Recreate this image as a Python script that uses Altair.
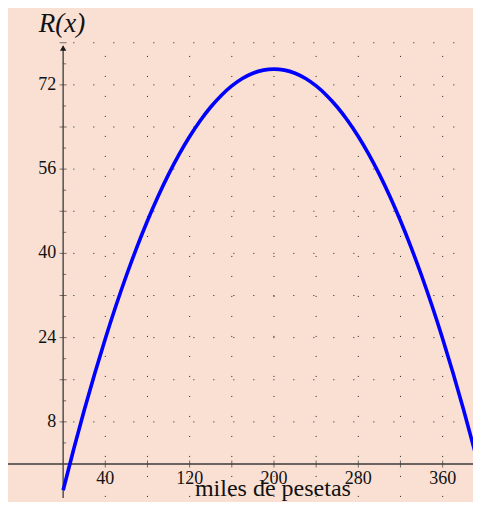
import altair as alt
import pandas as pd

# curve R(x), values
x_vals = [0, 10, 20, 30, 40, 50, 60, 70, 80, 90, 100, 110, 120, 130, 140, 150, 160, 170, 180, 190,
          200, 210, 220, 230, 240, 250, 260, 270, 280, 290, 300, 310, 320, 330, 340, 350, 360, 370,
          380, 390, 400]
r_vals = [-5.0, 2.8, 10.2, 17.2, 23.8, 30.0, 35.8, 41.2, 46.2, 50.8, 55.0, 58.8, 62.2, 65.2, 67.8,
          70.0, 71.8, 73.2, 74.2, 74.8, 75.0, 74.8, 74.2, 73.2, 71.8, 70.0, 67.8, 65.2, 62.2, 58.8,
          55.0, 50.8, 46.2, 41.2, 35.8, 30.0, 23.8, 17.2, 10.2, 2.8, -5.0]

x_ticks = [40, 80, 120, 160, 200, 240, 280, 320, 360]
x_labels = [40, 120, 200, 280, 360]
y_ticks = [8, 16, 24, 32, 40, 48, 56, 64, 72, 80]
y_minor = [4, 12, 20, 28, 36, 44, 52, 60, 68, 76]
y_labels = [8, 24, 40, 56, 72]
grid_cols = [40, 80, 120, 160, 200, 240, 280, 320, 360]
grid_rows = [8, 16, 24, 32, 40, 48, 56, 64, 72, 80]

FONT = "Liberation Serif"
BG = "#f9e0d3"
AX = "#3a3a3a"

xs = alt.Scale(domain=[-52.3, 388.8], nice=False, zero=False)
ys = alt.Scale(domain=[-6.46, 86.6], nice=False, zero=False)


def X(f):
    return alt.X(f, type="quantitative", scale=xs, axis=None)


def Y(f):
    return alt.Y(f, type="quantitative", scale=ys, axis=None)


def XD(v):
    return alt.XDatum(v, type="quantitative", scale=xs, axis=None)


def YD(v):
    return alt.YDatum(v, type="quantitative", scale=ys, axis=None)


curve_df = pd.DataFrame({"x": x_vals, "r": r_vals})
one = pd.DataFrame({"k": [0]})

cols = alt.Chart(pd.DataFrame({"c": grid_cols})).mark_rule(
    strokeDash=[1, 19], color="#222222", strokeWidth=1, clip=True
).encode(x=X("c"), y=YD(77.5), y2=alt.Y2Datum(-8.5))

rows = alt.Chart(pd.DataFrame({"r": grid_rows})).mark_rule(
    strokeDash=[1, 19], color="#222222", strokeWidth=1, clip=True
).encode(y=Y("r"), x=XD(9.7), x2=alt.X2Datum(400))

x_axis = alt.Chart(one).mark_rule(color=AX, strokeWidth=1.3, clip=True).encode(
    x=XD(-60), x2=alt.X2Datum(400), y=YD(0)
)
y_axis = alt.Chart(one).mark_rule(color=AX, strokeWidth=1.3, clip=True).encode(
    x=XD(0), y=YD(-10), y2=alt.Y2Datum(79.3)
)
arrow = alt.Chart(one).mark_point(
    shape="triangle-up", filled=True, size=40, color="#1a1a1a", opacity=1
).encode(x=XD(0), y=YD(79.0))

xt = alt.Chart(pd.DataFrame({"t": x_ticks})).mark_tick(
    orient="vertical", size=7, thickness=1, color=AX
).encode(x=X("t"), y=YD(0))
yt = alt.Chart(pd.DataFrame({"t": y_ticks})).mark_tick(
    orient="horizontal", size=7, thickness=1, color=AX
).encode(y=Y("t"), x=XD(0))
ytm = alt.Chart(pd.DataFrame({"t": y_minor})).mark_tick(
    orient="horizontal", size=3, thickness=1, color=AX, xOffset=1.5
).encode(y=Y("t"), x=XD(0))

xl = alt.Chart(pd.DataFrame({"v": x_labels})).mark_text(
    baseline="top", dy=6, fontSize=18, font=FONT, color="#111111"
).encode(x=X("v"), y=YD(0), text=alt.Text("v:Q", format="d"))
yl = alt.Chart(pd.DataFrame({"v": y_labels})).mark_text(
    align="right", baseline="middle", dx=-7, fontSize=18, font=FONT, color="#111111"
).encode(y=Y("v"), x=XD(0), text=alt.Text("v:Q", format="d"))

xtitle = alt.Chart(one).mark_text(
    text="miles de pesetas", fontSize=24, font=FONT, color="#111111",
    align="center", baseline="alphabetic"
).encode(x=XD(199), y=YD(-6.1))
ytitle = alt.Chart(one).mark_text(
    text="R(x)", fontSize=27, font=FONT, fontStyle="italic", color="#111111",
    align="center", baseline="alphabetic"
).encode(x=XD(-1), y=YD(82.0))

line = alt.Chart(curve_df).mark_line(
    color="#0000ff", strokeWidth=3.6, interpolate="monotone", clip=True
).encode(x=X("x"), y=Y("r"))

chart = alt.layer(
    cols, rows, x_axis, y_axis, arrow, xt, yt, ytm, xl, yl, xtitle, ytitle, line
).properties(width=465, height=490, padding=0, background=BG).configure_view(strokeWidth=0)

chart.save("out.html", embed_options={"renderer": "svg", "actions": False})
